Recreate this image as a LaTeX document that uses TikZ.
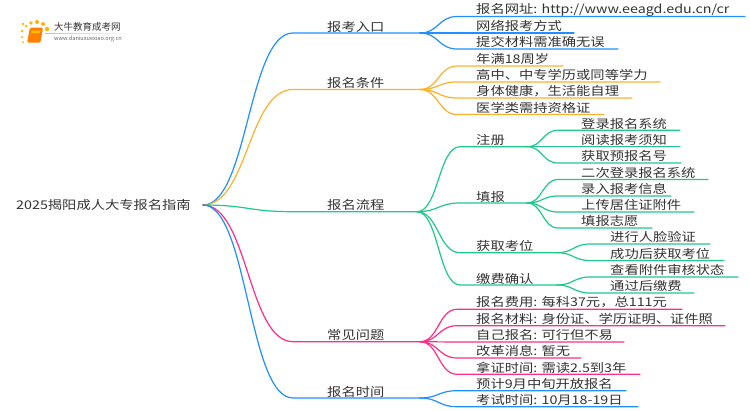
\documentclass[tikz,border=0pt]{standalone}
\usepackage{fontspec}
\setmainfont{Noto Sans CJK SC}
\usetikzlibrary{positioning, calc}
\definecolor{lineblue}{HTML}{2090FF}
\definecolor{lineorange}{HTML}{FDB02A}
\definecolor{linegreen}{HTML}{1FC98A}
\definecolor{linepink}{HTML}{FF2D85}
\definecolor{textgray}{HTML}{333333}
\begin{document}
\begin{tikzpicture}[x=1pt, y=-1pt]
\tikzstyle{lbl} = [font=\fontsize{12}{12}\selectfont, text=textgray, inner sep=0pt, anchor=west, xscale=1.19]
\tikzstyle{connect} = [line width=1.2pt, line cap=round]
\tikzstyle{branch} = [to path={.. controls ($(\tikztostart)!0.5!(\tikztostart-|\tikztotarget)$) and ($(\tikztotarget)!0.5!(\tikztotarget-|\tikztostart)$) .. (\tikztotarget)}]
\useasboundingbox (0,0) rectangle (750,410);
  % logo
  \foreach \dx/\dy/\r in {23/24/1.4, 26/26/1.3, 31/23/1.9, 37/22/2, 43/24/2, 47/29/2.2, 22/31/1.3, 22/37/1.1, 23/42/1}
    \fill[orange!60!yellow] (\dx,\dy) circle (\r);
  \fill[rounded corners=1.5pt, orange] (30,27.5) -- (43,27.5) -- (40.5,42.5) -- (27,42.5) -- cycle;
  \fill[orange!50!yellow] (31.5,30.5) -- (40.5,30.5) -- (40,33) -- (31,33) -- cycle;
  \shade[left color=black!25, right color=white] (45,33) rectangle (132,33.6);
  \node[font=\fontsize{9.5}{10}\selectfont, text=textgray, inner sep=0pt, anchor=west] (logoname) at (54,27) {大牛教育成考网};
  \node[font=\fontsize{5.6}{6}\selectfont, text=black!60, inner sep=0pt, anchor=west] (logourl) at (54,39) {www.daniuxuexiao.org.cn};
  % root and main branches
  \node[lbl] (root) at (16,205) {2025揭阳成人大专报名指南};
  \coordinate (fork) at (203,205);
  \foreach \name/\y/\xb/\col/\txt in {entry/33/420/lineblue/报考入口, cond/89.5/420/lineorange/报名条件, flow/211.7/417/linegreen/报名流程, faq/341.7/420/linepink/常见问题, date/398/420/lineblue/报名时间} {
    \coordinate (\name s) at (293,\y);
    \coordinate (\name) at (\xb,\y);
    \node[lbl] (\name t) at (327,\y-6.5) {\txt};
    \draw[connect, \col] (fork) to[branch] (\name s) -- (\name);
  }
  % second level of the process branch
  \foreach \name/\y/\xb/\txt in {reg/146.7/527/注册, fill/203/527/填报, seat/252.7/557/获取考位, pay/285/557/缴费确认} {
    \coordinate (\name s) at (460,\y);
    \coordinate (\name) at (\xb,\y);
    \node[lbl] (\name t) at (476,\y-6.5) {\txt};
    \draw[connect, linegreen] (flow) to[branch] (\name s) -- (\name);
  }
  % leaves
  \foreach \name/\src/\y/\xa/\xb/\xt/\col/\txt in {
    a1/entry/16.5/457/745/476/lineblue/{报名网址: http://www.eeagd.edu.cn/cr},
    a2/entry/33/457/574/476/lineblue/网络报考方式,
    a3/entry/49/457/618/476/lineblue/提交材料需准确无误,
    b1/cond/66/457/563/476/lineorange/年满18周岁,
    b2/cond/82/457/660/476/lineorange/高中、中专学历或同等学力,
    b3/cond/98/457/632/476/lineorange/身体健康，生活能自理,
    b4/cond/114.5/457/604/476/lineorange/医学类需持资格证,
    c1/reg/130.3/558/680/581/linegreen/登录报名系统,
    c2/reg/146.7/558/680/581/linegreen/阅读报考须知,
    c3/reg/163/558/681/581/linegreen/获取预报名号,
    d1/fill/179.5/558/708/581/linegreen/二次登录报名系统,
    d2/fill/196/558/671/581/linegreen/录入报考信息,
    d3/fill/212/558/694/581/linegreen/上传居住证附件,
    d4/fill/228/558/652/581/linegreen/填报志愿,
    e1/seat/244/590/710/610/linegreen/进行人脸验证,
    e2/seat/260.5/590/724/610/linegreen/成功后获取考位,
    f1/pay/277/590/738/610/linegreen/查看附件审核状态,
    f2/pay/293/590/694/610/linegreen/通过后缴费,
    g1/faq/309.3/457/682/476/linepink/报名费用: 每科37元，总111元,
    g2/faq/325.7/457/725/476/linepink/报名材料: 身份证、学历证明、证件照,
    g3/faq/342/457/624/476/linepink/自己报名: 可行但不易,
    g4/faq/358/457/581/476/linepink/改革消息: 暂无,
    g5/faq/374.3/457/640/476/linepink/拿证时间: 需读2.5到3年,
    h1/date/390.7/457/626/476/lineblue/预计9月中旬开放报名,
    h2/date/406.7/457/638/476/lineblue/考试时间: 10月18-19日} {
    \coordinate (\name s) at (\xa,\y);
    \coordinate (\name e) at (\xb,\y);
    \node[lbl] (\name) at (\xt,\y-6.8) {\txt};
    \draw[connect, \col] (\src) to[branch] (\name s) -- (\name e);
  }
\end{tikzpicture}
\end{document}
